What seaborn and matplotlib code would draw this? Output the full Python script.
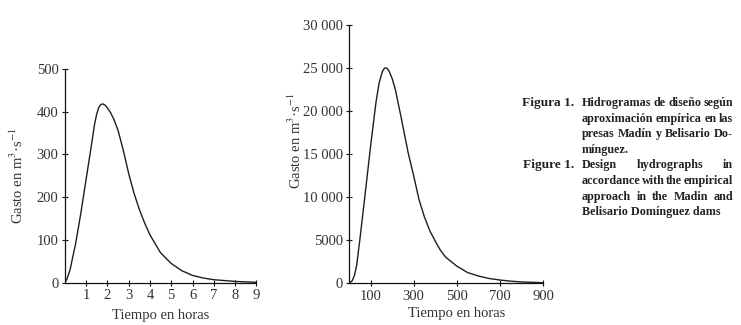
import numpy as np
import matplotlib
matplotlib.use('Agg')
import matplotlib.pyplot as plt
import seaborn as sns

# Hydrograph values
madin_t = [0, 0.1, 0.25, 0.4, 0.5, 0.75, 1.0, 1.25, 1.4, 1.5, 1.6, 1.7, 1.8,
           1.9, 2.0, 2.15, 2.3, 2.5, 2.75, 3.0, 3.25, 3.5, 3.75, 4.0, 4.5,
           5.0, 5.5, 6.0, 6.5, 7.0, 8.0, 9.0]
madin_q = [0, 8, 30, 65, 88, 160, 240, 320, 370, 394, 410, 417, 418,
           415, 409, 398, 383, 357, 310, 256, 210, 172, 140, 112, 70,
           45, 28, 17, 11, 7, 3, 1]

belisario_t = [0, 15, 25, 35, 50, 75, 100, 125, 140, 155, 165, 175, 185, 200,
               215, 240, 275, 300, 325, 350, 375, 400, 425, 450, 500, 550,
               600, 650, 700, 750, 800, 900]
belisario_q = [0, 300, 900, 2000, 5000, 10400, 15900, 21000, 23300, 24600,
               25000, 25000, 24700, 23800, 22500, 19500, 15100, 12500, 9700,
               7700, 6100, 4900, 3800, 3000, 2000, 1250, 850, 560, 380, 250,
               160, 70]

left_xticks = [1, 2, 3, 4, 5, 6, 7, 8, 9]
left_yticks = [0, 100, 200, 300, 400, 500]
right_xticks = [100, 300, 500, 700, 900]
right_yticks = [0, 5000, 10000, 15000, 20000, 25000, 30000]
right_ylabels = ['0', '5000', '10 000', '15 000', '20 000', '25 000', '30 000']

sns.set_style('ticks')
plt.rcParams['font.family'] = ['Liberation Serif', 'DejaVu Serif']
plt.rcParams['mathtext.fontset'] = 'stix'

W, H = 741, 325
fig = plt.figure(figsize=(W / 100, H / 100), dpi=100)
ax1 = fig.add_axes([64.7 / W, 42.3 / H, 191.7 / W, 213.8 / H])
ax2 = fig.add_axes([349 / W, 41.7 / H, 194 / W, 258.3 / H])

ylab = r'Gasto en m$^3$·s$^{-1}$'
line_col = '#1e1e1e'

sns.lineplot(x=madin_t, y=madin_q, ax=ax1, color=line_col, linewidth=1)
ax1.set_xlim(0, 9)
ax1.set_ylim(0, 500)
ax1.set_xticks(left_xticks)
ax1.set_yticks(left_yticks)

sns.lineplot(x=belisario_t, y=belisario_q, ax=ax2, color=line_col, linewidth=1)
ax2.set_xlim(0, 900)
ax2.set_ylim(0, 30000)
ax2.set_xticks(right_xticks)
ax2.set_yticks(right_yticks)
ax2.set_yticklabels(right_ylabels)

for ax in (ax1, ax2):
    sns.despine(ax=ax)
    for s in ('left', 'bottom'):
        ax.spines[s].set_color('#111111')
        ax.spines[s].set_linewidth(0.9)
    ax.tick_params(direction='inout', length=5, width=0.8, colors='#111111',
                   labelsize=10.5, pad=2, labelcolor='#333333')
    ax.set_xlabel('Tiempo en horas', fontsize=10.5, color='#333333')
    ax.set_ylabel(ylab, fontsize=10.5, color='#333333')

ax1.yaxis.set_label_coords(-0.202, 0.5)
ax1.xaxis.set_label_coords(0.5, -0.125)
ax2.yaxis.set_label_coords(-0.232, 0.55)
ax2.xaxis.set_label_coords(0.555, -0.09)

# caption, justified by hand
lab_fs = 9.6
cap_fs = 8.7
lab_right = 574
body_left, body_right = 582, 733
line_h = 15.6
y0 = 106
paras = [
    ('Figura 1.', ['Hidrogramas de diseño según', 'aproximación empírica en las',
                   'presas Madín y Belisario Do-', 'mínguez.']),
    ('Figure 1.', ['Design hydrographs in', 'accordance with the empirical',
                   'approach in the Madin and', 'Belisario Domínguez dams']),
]
renderer = fig.canvas.get_renderer()
k = 0
for label, lines in paras:
    y = H - (y0 + k * line_h)
    fig.text(lab_right / W, y / H, label, ha='right', va='baseline',
             fontsize=lab_fs, fontweight='bold', color='#222222')
    for i, ln in enumerate(lines):
        y = H - (y0 + k * line_h)
        words = ln.split(' ')
        last = i == len(lines) - 1
        if last or len(words) == 1:
            fig.text(body_left / W, y / H, ln, ha='left', va='baseline',
                     fontsize=cap_fs, fontweight='bold', color='#222222')
        else:
            objs = [fig.text(0, y / H, w, ha='left', va='baseline',
                             fontsize=cap_fs, fontweight='bold', color='#222222')
                    for w in words]
            widths = [o.get_window_extent(renderer).width for o in objs]
            gap = (body_right - body_left - sum(widths)) / (len(words) - 1)
            x = body_left
            for o, wd in zip(objs, widths):
                o.set_x(x / W)
                x += wd + gap
        k += 1

fig.savefig('out.png', dpi=100)
